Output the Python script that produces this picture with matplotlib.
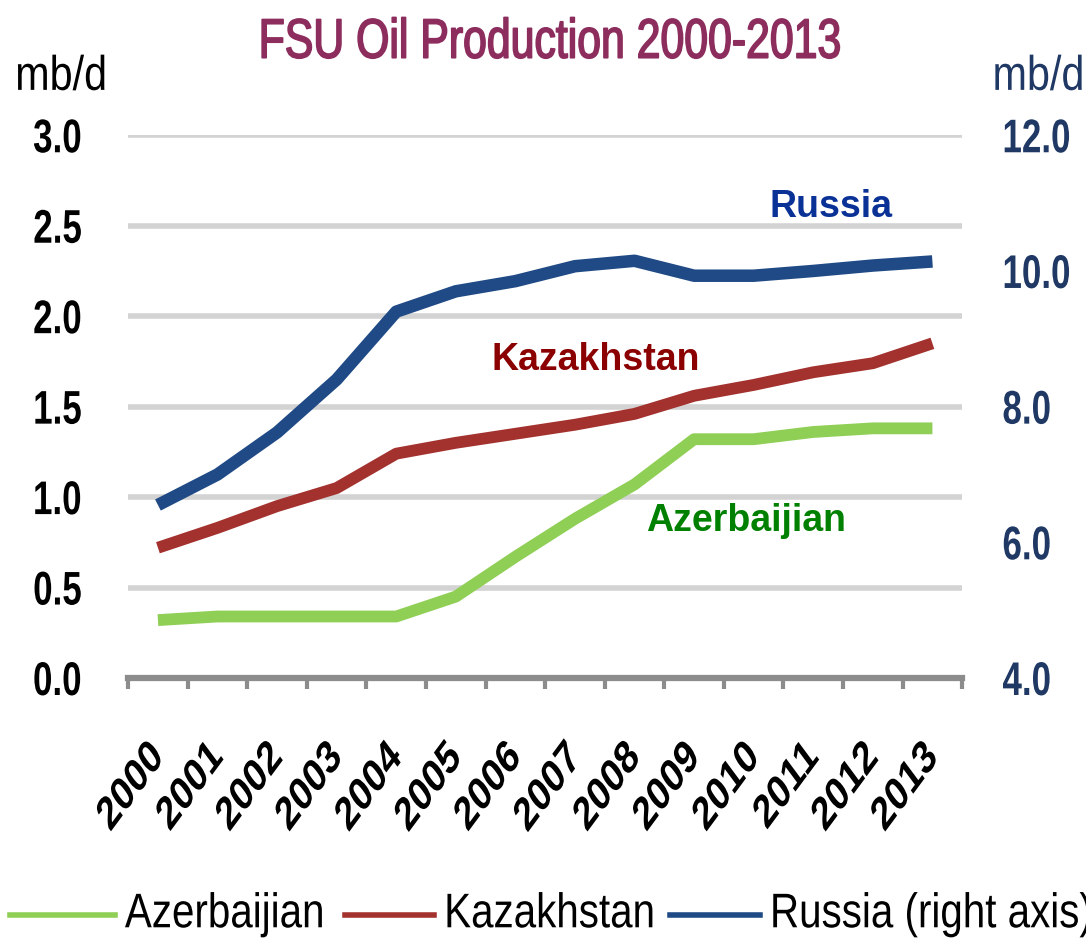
#!/usr/bin/env python3
"""
FSU oil production 2000-2013, re-drawn with matplotlib.
"""

import matplotlib
matplotlib.use("Agg")
import matplotlib.pyplot as plt
from matplotlib.lines import Line2D
from matplotlib.patheffects import AbstractPathEffect
from matplotlib.ticker import FixedLocator
from matplotlib.transforms import Affine2D

# data (mb/d)
years = [str(y) for y in range(2000, 2014)]
azerbaijan = [0.32, 0.34, 0.34, 0.34, 0.34, 0.45, 0.67, 0.88, 1.07, 1.32, 1.32, 1.36, 1.38, 1.38]
kazakhstan = [0.72, 0.83, 0.95, 1.05, 1.24, 1.30, 1.35, 1.40, 1.46, 1.56, 1.62, 1.69, 1.74, 1.85]
russia = [6.55, 7.00, 7.62, 8.40, 9.40, 9.70, 9.85, 10.07, 10.15, 9.93, 9.93, 10.00, 10.08, 10.14]

series_names = ["Azerbaijian", "Kazakhstan", "Russia (right axis)"]
left_ticks = [0.0, 0.5, 1.0, 1.5, 2.0, 2.5, 3.0]
right_ticks = [4.0, 6.0, 8.0, 10.0, 12.0]

GREEN = "#8fcf55"
RED = "#a3322f"
NAVY = "#1f4a86"
AXNAVY = "#1f3864"
ARIAL = ["Liberation Sans", "DejaVu Sans"]


class Stretch(AbstractPathEffect):
    """Scale drawn text about one of its edges (no narrow font installed)."""

    def __init__(self, sx=1.0, sy=1.0, xanchor="center", yanchor="center", stroke=0):
        super().__init__()
        self.sx, self.sy = sx, sy
        self.xanchor, self.yanchor = xanchor, yanchor
        self.stroke = stroke

    @staticmethod
    def _pick(vals, where):
        if where in ("left", "bottom"):
            return vals.min()
        if where in ("right", "top"):
            return vals.max()
        return (vals.min() + vals.max()) / 2

    def draw_path(self, renderer, gc, tpath, affine, rgbFace=None):
        pts = affine.transform(tpath.vertices)
        x0 = self._pick(pts[:, 0], self.xanchor)
        y0 = self._pick(pts[:, 1], self.yanchor)
        t = affine + (Affine2D().translate(-x0, -y0)
                      .scale(self.sx, self.sy).translate(x0, y0))
        if self.stroke and rgbFace is not None:
            gc0 = renderer.new_gc()
            gc0.copy_properties(gc)
            gc0.set_linewidth(self.stroke)
            gc0.set_foreground(rgbFace)
            renderer.draw_path(gc0, tpath, t, rgbFace)
            gc0.restore()
        else:
            renderer.draw_path(gc, tpath, t, rgbFace)


fig = plt.figure(figsize=(10.86, 9.46), dpi=100)
ax = fig.add_axes([0.118, 0.2833, 0.768, 0.5737])
ax2 = ax.twinx()

x = list(range(len(years)))

ax.set_xlim(-0.5, len(years) - 0.5)
ax.set_ylim(0, 3.0)
ax2.set_ylim(4.0, 12.0)

# gridlines
for v in left_ticks[1:]:
    ax.axhline(v, color="#d3d3d3", lw=4, zorder=1)

ax.plot(x, azerbaijan, color=GREEN, lw=8.5, solid_capstyle="butt", zorder=3)
ax.plot(x, kazakhstan, color=RED, lw=8.5, solid_capstyle="butt", zorder=3)
ax2.plot(x, russia, color=NAVY, lw=9, solid_capstyle="butt", zorder=3)

for a in (ax, ax2):
    for s in ("top", "right", "left"):
        a.spines[s].set_visible(False)
ax2.spines["bottom"].set_visible(False)
ax.spines["bottom"].set_color("#8c8c8c")
ax.spines["bottom"].set_linewidth(4.5)

# left axis
ax.set_yticks(left_ticks)
ax.set_yticklabels([f"{v:.1f}" for v in left_ticks], fontsize=34,
                   fontweight="bold", family=ARIAL)
ax.tick_params(axis="y", length=0, pad=33)
for t in ax.get_yticklabels():
    t.set_path_effects([Stretch(sx=0.74, xanchor="right")])

# right axis
ax2.set_yticks(right_ticks)
ax2.set_yticklabels([f"{v:.1f}" for v in right_ticks], fontsize=34,
                    fontweight="bold", color=AXNAVY, family=ARIAL)
ax2.tick_params(axis="y", length=0, pad=29)
for t in ax2.get_yticklabels():
    t.set_path_effects([Stretch(sx=0.74, xanchor="left")])

# x axis: 45 degree labels, stretched tall like the source image
ax.set_xticks(x)
ax.set_xticklabels(years, rotation=45, ha="right", va="center",
                   rotation_mode="anchor", fontsize=25, fontweight="bold",
                   family=ARIAL)
ax.tick_params(axis="x", length=0, pad=50)
for t in ax.get_xticklabels():
    t.set_path_effects([Stretch(sy=1.35, xanchor="right", yanchor="top")])
ax.xaxis.set_minor_locator(FixedLocator([i - 0.5 for i in range(len(years) + 1)]))
ax.tick_params(axis="x", which="minor", length=8, width=3, color="#8c8c8c")

# unit labels and title
t = fig.text(0.014, 0.905, "mb/d", fontsize=35, family=ARIAL, ha="left",
             va="baseline")
t.set_path_effects([Stretch(sx=0.85, xanchor="left")])
t = fig.text(0.999, 0.905, "mb/d", fontsize=35, family=ARIAL, color=AXNAVY,
             ha="right", va="baseline")
t.set_path_effects([Stretch(sx=0.85, xanchor="right")])
t = fig.text(0.506, 0.939, "FSU Oil Production 2000-2013", fontsize=40,
             family=ARIAL, color="#8c2d5e", ha="center", va="baseline")
t.set_path_effects([Stretch(sx=0.77, stroke=1.2)])

# series annotations
ax.text(11.3, 2.55, "Russia", color="#0a3296", fontsize=27, fontweight="bold",
        family=ARIAL, ha="center", va="baseline")
ax.text(7.35, 1.70, "Kazakhstan", color="#8b0000", fontsize=27, fontweight="bold",
        family=ARIAL, ha="center", va="baseline")
ax.text(9.88, 0.81, "Azerbaijian", color="#008000", fontsize=27, fontweight="bold",
        family=ARIAL, ha="center", va="baseline")

# legend, laid out by hand so the condensed labels sit tight
legend_colors = [GREEN, RED, NAVY]
line_x = [(0.009, 0.106), (0.318, 0.400), (0.617, 0.700)]
text_x = [0.115, 0.409, 0.709]
for name, col, (x0, x1), tx in zip(series_names, legend_colors, line_x, text_x):
    fig.add_artist(Line2D([x0, x1], [0.033, 0.033], color=col, lw=4,
                          transform=fig.transFigure))
    t = fig.text(tx, 0.033, name, fontsize=35, family=ARIAL, ha="left",
                 va="center")
    t.set_path_effects([Stretch(sx=0.83, xanchor="left")])

fig.savefig("out.png", dpi=100)
print("Saved: out.png")
